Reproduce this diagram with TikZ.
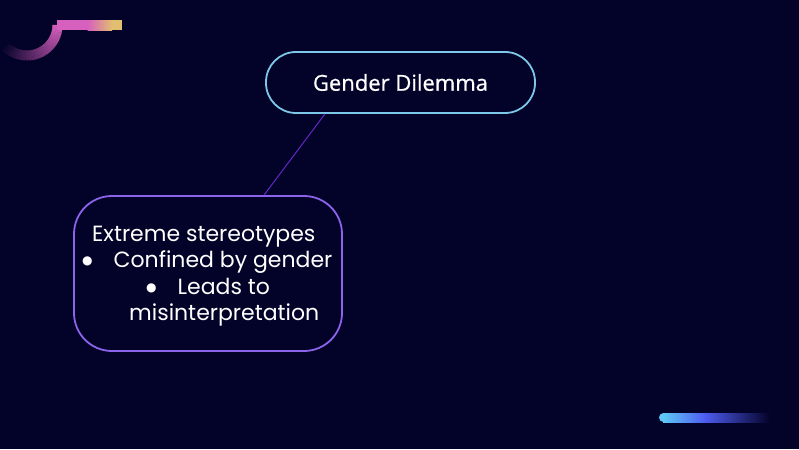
\documentclass[tikz,border=0pt]{standalone}
\usepackage{fontspec}
\setmainfont{Poppins}
\newfontfamily\titlefont[FakeBold=0.6]{Open Sans}
\newfontfamily\bulletfont{DejaVu Sans}
\usetikzlibrary{calc}
\definecolor{bgc}{RGB}{3,2,40}
\definecolor{pinkc}{RGB}{214,96,190}
\definecolor{goldc}{RGB}{226,190,112}
\definecolor{lbluec}{RGB}{95,200,245}
\definecolor{bluec}{RGB}{78,92,240}
\definecolor{topstroke}{RGB}{125,200,232}
\definecolor{boxstroke}{RGB}{140,100,235}
\definecolor{linkc}{RGB}{100,40,200}
\newcommand{\bul}{\raisebox{3pt}{\bulletfont\fontsize{12}{12}\selectfont ●}}
\tikzset{
  titlebox/.style={draw=topstroke, line width=1.8pt, rounded corners=30pt,
    minimum width=269pt, minimum height=61pt, text=white,
    font=\titlefont\fontsize{22}{26}\selectfont},
  ideabox/.style={draw=boxstroke, line width=1.8pt, rounded corners=38pt,
    minimum width=268pt, minimum height=155pt},
  ideatext/.style={text=white, align=left, inner sep=0pt,
    font=\fontsize{22}{26.3}\selectfont},
  link/.style={draw=linkc, line width=1pt}
}
\begin{document}
\begin{tikzpicture}[x=1pt,y=-1pt]
\fill[bgc] (0,0) rectangle (799,449);
\useasboundingbox (0,0) rectangle (799,449);
% top-left ornament
\foreach \i in {0,...,55}{
  \pgfmathsetmacro{\p}{100-\i*100/55}
  \pgfmathsetmacro{\a}{\i*2.5}
  \draw[line width=10pt, color=pinkc!\p!bgc] ($(27,25)+(\a:30.5)$) arc (\a:\a+3:30.5);
}
\fill[pinkc] (56.5,20.5) rectangle (88,30.5);
\shade[left color=pinkc, right color=goldc] (87.5,20.5) rectangle (112,30.5);
\fill[goldc] (111.5,20.5) rectangle (122,30.5);
% bottom-right ornament
\fill[lbluec] (663.5,417.5) circle (4.5);
\shade[left color=lbluec, right color=bluec] (663,413) rectangle (705,422);
\shade[left color=bluec, right color=bgc] (704.5,413) rectangle (770,422);
% nodes
\node[titlebox] (gd) at (400.5,82.5) {Gender Dilemma};
\node[ideabox] (st) at (208,273.5) {};
\node[ideatext, anchor=north west] (sttext) at (82,226) {%
\hspace*{10pt}Extreme stereotypes\\
\bul\hspace*{21pt}Confined by gender\\
\hspace*{64pt}\bul\hspace*{21pt}Leads to\\
\hspace*{47pt}misinterpretation};
\draw[link] (gd.south -| 325,0) -- (st.north -| 264,0);
\end{tikzpicture}
\end{document}
